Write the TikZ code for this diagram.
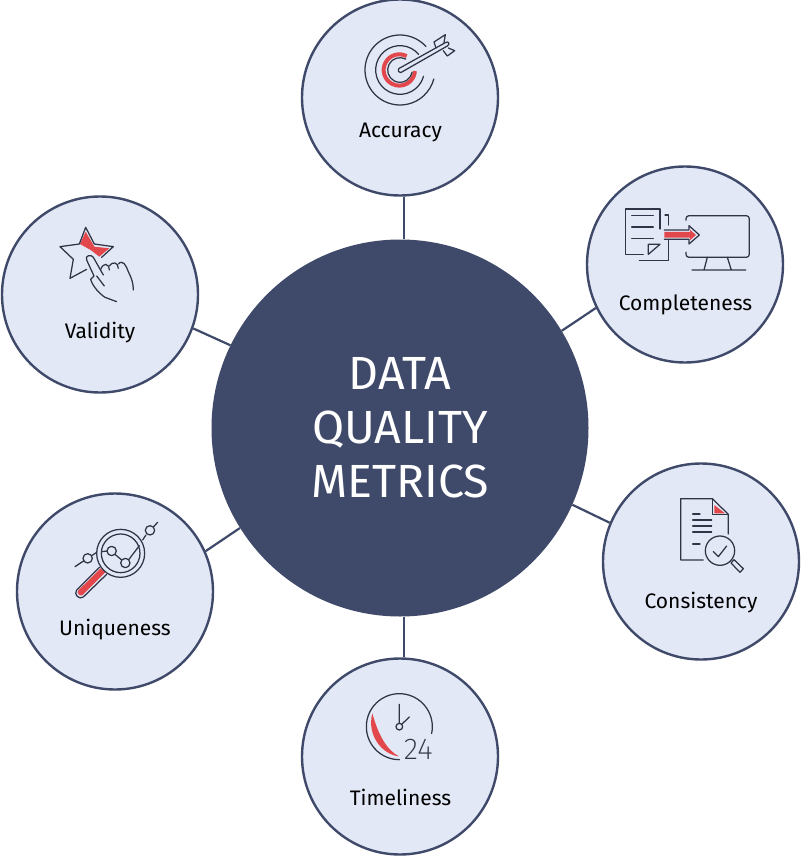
\documentclass[tikz,border=0pt]{standalone}
\usepackage{fontspec}
\setmainfont{Fira Sans}
\newfontfamily\lightf{Fira Sans ExtraLight}
\definecolor{navy}{HTML}{3F4969}
\definecolor{pale}{HTML}{E3E8F6}
\definecolor{redm}{HTML}{E2474B}
\definecolor{ink}{HTML}{2F3546}
\tikzset{
  hubnode/.style={circle,fill=navy,draw=none,minimum size=377pt,inner sep=0pt,text=white,align=center,font=\fontsize{46.5}{54}\selectfont},
  metric/.style={circle,fill=pale,draw=navy,line width=2.4pt,minimum size=196pt,inner sep=0pt},
  metriclabel/.style={text=black,font=\fontsize{21}{24}\selectfont,inner sep=0pt,anchor=base},
  link/.style={draw=navy,line width=2.2pt},
  ic/.style={draw=ink,line width=1.25pt,line cap=round,line join=round,fill=none},
  icon/.style={x=0.3333pt,y=-0.3333pt}
}
\begin{document}
\begin{tikzpicture}[x=1pt,y=-1pt]
\useasboundingbox (0,0) rectangle (800,856);
\node[hubnode] (hub) at (400,428) {DATA\\QUALITY\\METRICS};
\node[metric] (acc) at (400,97.5) {};
\node[metric] (cmp) at (685,264.5) {};
\node[metric] (con) at (701,561.5) {};
\node[metric] (tim) at (400,756.5) {};
\node[metric] (uni) at (115,591.5) {};
\node[metric] (val) at (100,294.5) {};
\draw[link] ([xshift=4pt]hub.north) -- ([xshift=4pt]acc.south);
\draw[link] (hub.31.3) -- (cmp.206.8);
\draw[link] (hub.-24.2) -- (con.157.6);
\draw[link] ([xshift=4pt]hub.south) -- ([xshift=4pt]tim.north);
\draw[link] (hub.212.3) -- (uni.24.5);
\draw[link] (hub.154.1) -- (val.-20.3);
\node[metriclabel] (lacc) at (400.5,137) {Accuracy};
\node[metriclabel] (lcmp) at (685.5,310) {Completeness};
\node[metriclabel] (lcon) at (701,608) {Consistency};
\node[metriclabel] (ltim) at (400.5,805) {Timeliness};
\node[metriclabel] (luni) at (115,635) {Uniqueness};
\node[metriclabel] (lval) at (100,338) {Validity};
% Accuracy icon
\begin{scope}[shift={(340,20)},icon]
\draw[ic] (180,150) ++(-42:105) arc[start angle=-42,end angle=-345,radius=105];
\draw[ic] (180,150) ++(-40:73) arc[start angle=-40,end angle=-345,radius=73];
\draw[redm,line width=4pt] (178,150) ++(-62:47) arc[start angle=-62,end angle=-356,radius=47];
\draw[ic] (180,150) ++(-62:37) arc[start angle=-62,end angle=-350,radius=37];
\draw[ic] (182,158) -- (322,78) .. controls (332,72) and (325,62) .. (316,68) -- (176,146) .. controls (172,150) and (176,160) .. (182,158);
\draw[ic] (288,84) -- (282,66) -- (316,44) -- (312,68);
\draw[ic] (310,92) -- (322,108) -- (344,92) -- (325,84);
\end{scope}
% Completeness icon
\begin{scope}[shift={(610,195)},icon]
\draw[ic] (100,178) -- (47,178) -- (47,42) -- (150,42) -- (150,102);
\draw[ic] (115,178) -- (115,148) -- (150,148) -- cycle;
\draw[ic] (65,62) -- (130,62) (65,96) -- (130,96) (65,130) -- (130,130);
\draw[ic] (165,60) -- (176,60) -- (176,90) (176,135) -- (176,197) -- (88,197);
\fill[redm] (163,111) -- (240,111) -- (240,104) -- (258,120) -- (240,136) -- (240,128) -- (163,128) -- cycle;
\draw[ic] (163,105) -- (237,105) -- (237,92) -- (268,120) -- (237,147) -- (237,133) -- (163,133);
\draw[ic,rounded corners=3pt] (228,76) -- (228,62) -- (418,62) -- (418,187) -- (228,187) -- (228,172);
\draw[ic] (292,187) -- (282,225) (352,187) -- (364,225) (246,225) -- (407,225);
\end{scope}
% Consistency icon
\begin{scope}[shift={(660,490)},icon]
\fill[redm] (163,45) -- (163,70) -- (195,70) -- cycle;
\draw[ic] (130,210) -- (62,210) -- (62,26) -- (157,26) -- (205,73) -- (205,132);
\draw[ic] (157,26) -- (157,73) -- (205,73);
\draw[ic] (98,72) -- (120,72) (98,90) -- (155,90) (98,108) -- (155,108) (98,126) -- (155,126) (98,162) -- (120,162);
\draw[ic] (180,182) circle[radius=44];
\draw[ic] (160,185) -- (175,200) -- (200,168);
\draw[ic] (213,219) -- (222,209) -- (250,236) -- (240,247) -- cycle;
\end{scope}
% Timeliness icon
\begin{scope}[shift={(350,695)},icon]
\fill[redm] (67,55) .. controls (50,120) and (95,178) .. (147,184) .. controls (110,165) and (85,120) .. (67,55) -- cycle;
\draw[ic] (148,95) ++(12:99) arc[start angle=12,end angle=-270,radius=99];
\draw[ic] (148,28) -- (148,85) (155,88) -- (178,66);
\draw[ic] (148,95) circle[radius=10];
\node[inner sep=0pt,text=ink,font=\lightf\fontsize{30}{30}\selectfont] (n24) at (205,163) {24};
\end{scope}
% Uniqueness icon
\begin{scope}[shift={(60,515)},icon]
\fill[redm] (136,172) -- (68,240) .. controls (60,246) and (48,234) .. (55,226) -- (122,160) -- cycle;
\draw[ic] (118,157) -- (50,225) .. controls (40,238) and (58,256) .. (70,246) -- (140,178);
\draw[ic] (182,115) circle[radius=72] (182,115) circle[radius=58];
\draw[ic] (45,155) -- (72,137) (95,122) -- (110,112) (125,110) -- (142,108) (165,118) -- (185,135) (207,133) -- (238,92) (248,75) -- (258,60) (280,36) -- (293,22);
\draw[ic] (83,130) circle[radius=14] (155,108) circle[radius=14] (196,144) circle[radius=14] (270,46) circle[radius=14];
\end{scope}
% Validity icon
\begin{scope}[shift={(50,220)},icon]
\fill[redm] (90,72) -- (107,35) -- (133,80) -- (178,85) -- (148,110) -- (122,90) -- cycle;
\draw[ic] (110,148) -- (60,175) -- (70,118) -- (30,80) -- (88,72) -- (107,22) -- (133,72) -- (190,80) -- (155,112);
\draw[ic] (160,165) -- (130,112) .. controls (124,102) and (104,106) .. (110,120) -- (132,168) -- (122,178) .. controls (128,200) and (150,222) .. (165,232) -- (200,245);
\draw[ic] (140,168) -- (163,198);
\draw[ic] (152,148) .. controls (160,128) and (176,128) .. (178,150);
\draw[ic] (178,138) .. controls (190,122) and (204,128) .. (205,145);
\draw[ic] (205,132) .. controls (218,118) and (228,135) .. (235,155) .. controls (245,175) and (250,190) .. (250,210);
\end{scope}
\end{tikzpicture}
\end{document}
